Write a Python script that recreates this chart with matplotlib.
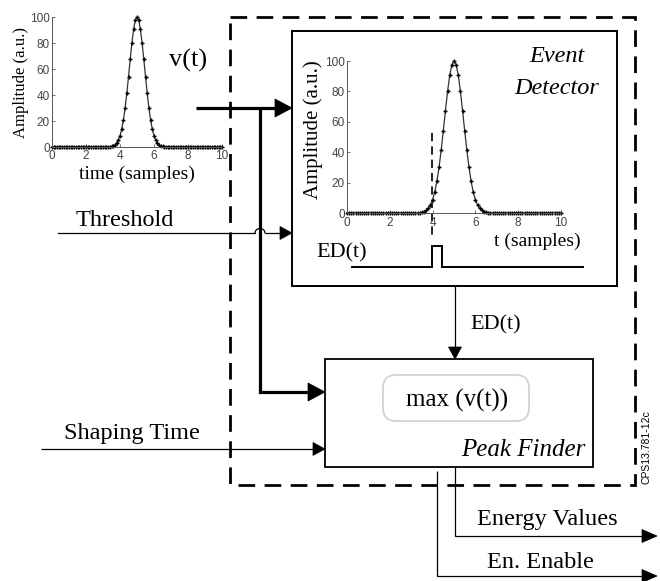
import numpy as np
import matplotlib
matplotlib.use("Agg")
import matplotlib.pyplot as plt
from matplotlib.patches import Polygon, Rectangle, FancyBboxPatch

# ---------------- data ----------------
t_step = 0.1
pulse_rise = [0.4, 0.9, 1.7, 3.1, 5.3, 8.7, 13.8, 20.8, 30.0, 41.3, 54.0, 67.4, 80.0, 90.6, 97.6]
pulse_peak = [100.0]
pulse_fall = [97.6, 90.6, 80.0, 67.4, 54.0, 41.3, 30.0, 20.8, 13.8, 8.7, 5.3, 3.1, 1.7, 0.9, 0.4]
amplitude = [0.0] * 35 + pulse_rise + pulse_peak + pulse_fall + [0.0] * 35
time_samples = np.arange(len(amplitude)) * t_step
x_ticks = [0, 2, 4, 6, 8, 10]
y_ticks = [0, 20, 40, 60, 80, 100]

SERIF = ["Liberation Serif", "DejaVu Serif"]
SANS = ["Liberation Sans", "DejaVu Sans"]

W, H = 660, 581
fig = plt.figure(figsize=(W / 100, H / 100), dpi=100)
ov = fig.add_axes([0, 0, 1, 1])
ov.set_xlim(0, W)
ov.set_ylim(H, 0)
ov.axis("off")


def arrow(pts, lw=1.0, hl=12, hw=6, color="black"):
    pts = np.asarray(pts, dtype=float)
    p_end = pts[-1]
    p_prev = pts[-2]
    d = p_end - p_prev
    d = d / np.hypot(*d)
    base = p_end - d * hl
    line = np.vstack([pts[:-1], base])
    ov.plot(line[:, 0], line[:, 1], color=color, lw=lw, solid_joinstyle="miter",
            solid_capstyle="butt")
    n = np.array([-d[1], d[0]])
    tri = np.array([p_end, base + n * hw, base - n * hw])
    ov.add_patch(Polygon(tri, closed=True, facecolor=color, edgecolor=color, lw=0.5))


# dashed outer box
ov.add_patch(Rectangle((230, 17), 635 - 230, 485 - 17, fill=False, edgecolor="black",
                       lw=2.0, linestyle=(0, (6.0, 3.4))))

# event detector box
ov.add_patch(Rectangle((292, 31), 617 - 292, 286 - 31, fill=False, edgecolor="black", lw=1.4))
# peak finder box
ov.add_patch(Rectangle((325, 359), 593 - 325, 467 - 359, fill=False, edgecolor="black", lw=1.3))
ov.add_patch(FancyBboxPatch((383, 375), 529 - 383, 421 - 375,
                            boxstyle="round,pad=0,rounding_size=13",
                            facecolor="none", edgecolor="#d2d2d2", lw=1.3))

# thick signal path v(t)
arrow([(196, 108), (292, 108)], lw=2.3, hl=17, hw=9)
arrow([(260, 108), (260, 392), (325, 392)], lw=2.3, hl=17, hw=9)

# threshold line with hop over
ov.plot([58, 255], [233, 233], color="black", lw=0.9)
theta = np.linspace(0, np.pi, 30)
ov.plot(260 - 5 * np.cos(theta), 233 - 4.5 * np.sin(theta), color="black", lw=0.9)
arrow([(265, 233), (292, 233)], lw=0.9, hl=12, hw=6.5)

# shaping time
arrow([(41, 449), (325, 449)], lw=0.9, hl=12, hw=6.5)

# ED(t) to peak finder
arrow([(455, 286), (455, 359)], lw=0.9, hl=12, hw=6.5)

# outputs
arrow([(455, 467), (455, 536), (657, 536)], lw=0.9, hl=15, hw=6.5)
arrow([(437, 471), (437, 576), (657, 576)], lw=0.9, hl=15, hw=6.5)

# ED pulse trace
ov.plot([352, 432, 432, 442, 442, 583], [267, 267, 246, 246, 267, 267],
        color="black", lw=1.4, solid_joinstyle="miter")
# threshold dashed marker line
ov.plot([432, 432], [133, 237], color="black", lw=1.2, linestyle=(0, (5, 3)))

# texts
ov.text(188, 60, "v(t)", fontsize=19, family=SERIF, ha="center", va="center")
ov.text(125, 220, "Threshold", fontsize=17.5, family=SERIF, ha="center", va="center")
ov.text(132, 433, "Shaping Time", fontsize=17.5, family=SERIF, ha="center", va="center")
ov.text(557, 57, "Event", fontsize=17.5, family=SERIF, style="italic", ha="center", va="center")
ov.text(557, 88, "Detector", fontsize=17.5, family=SERIF, style="italic", ha="center", va="center")
ov.text(342, 253, "ED(t)", fontsize=16, family=SERIF, ha="center", va="center")
ov.text(496, 325, "ED(t)", fontsize=16, family=SERIF, ha="center", va="center")
ov.text(457, 400, "max (v(t))", fontsize=18, family=SERIF, ha="center", va="center")
ov.text(586, 450, "Peak Finder", fontsize=18, family=SERIF, style="italic", ha="right", va="center")
ov.text(547, 520, "Energy Values", fontsize=17.5, family=SERIF, ha="center", va="center")
ov.text(540, 562, "En. Enable", fontsize=17.5, family=SERIF, ha="center", va="center")
ov.text(646, 447, "CPS13.781-12c", fontsize=7.5, family=SANS, rotation=90,
        ha="center", va="center")


def pulse_axes(rect_px, tick_fs, xpad):
    x0, y0, x1, y1 = rect_px
    ax = fig.add_axes([x0 / W, 1 - y1 / H, (x1 - x0) / W, (y1 - y0) / H])
    ax.patch.set_alpha(0)
    ax.plot(time_samples, amplitude, color="#333333", lw=0.9, marker="+",
            markersize=3.5, mew=1.0, mec="black", clip_on=False)
    ax.set_xlim(0, 10)
    ax.set_ylim(0, 100)
    ax.set_xticks(x_ticks)
    ax.set_yticks(y_ticks)
    for s in ["top", "right"]:
        ax.spines[s].set_visible(False)
    for s in ["left", "bottom"]:
        ax.spines[s].set_linewidth(0.7)
        ax.spines[s].set_color("#555555")
    ax.tick_params(direction="in", length=2, width=0.6, pad=1.5, labelsize=tick_fs,
                   colors="#555555", labelcolor="#444444")
    ax.tick_params(axis="x", pad=xpad)
    for lab in ax.get_xticklabels() + ax.get_yticklabels():
        lab.set_family(SANS)
    return ax


ax1 = pulse_axes((52, 17, 222, 147), 8.5, 2.5)
ax1.set_xlabel("time (samples)", fontsize=14, family=SERIF, labelpad=2)
ax1.set_ylabel("Amplitude (a.u.)", fontsize=12, family=SERIF, labelpad=1)

ax2 = pulse_axes((347, 61, 561, 213), 8.5, 3)
ov.text(537, 241, "t (samples)", fontsize=14, family=SERIF, ha="center", va="center")
ov.text(313, 130, "Amplitude (a.u.)", fontsize=15, family=SERIF, rotation=90,
        ha="center", va="center")

fig.savefig("out.png", dpi=100)
